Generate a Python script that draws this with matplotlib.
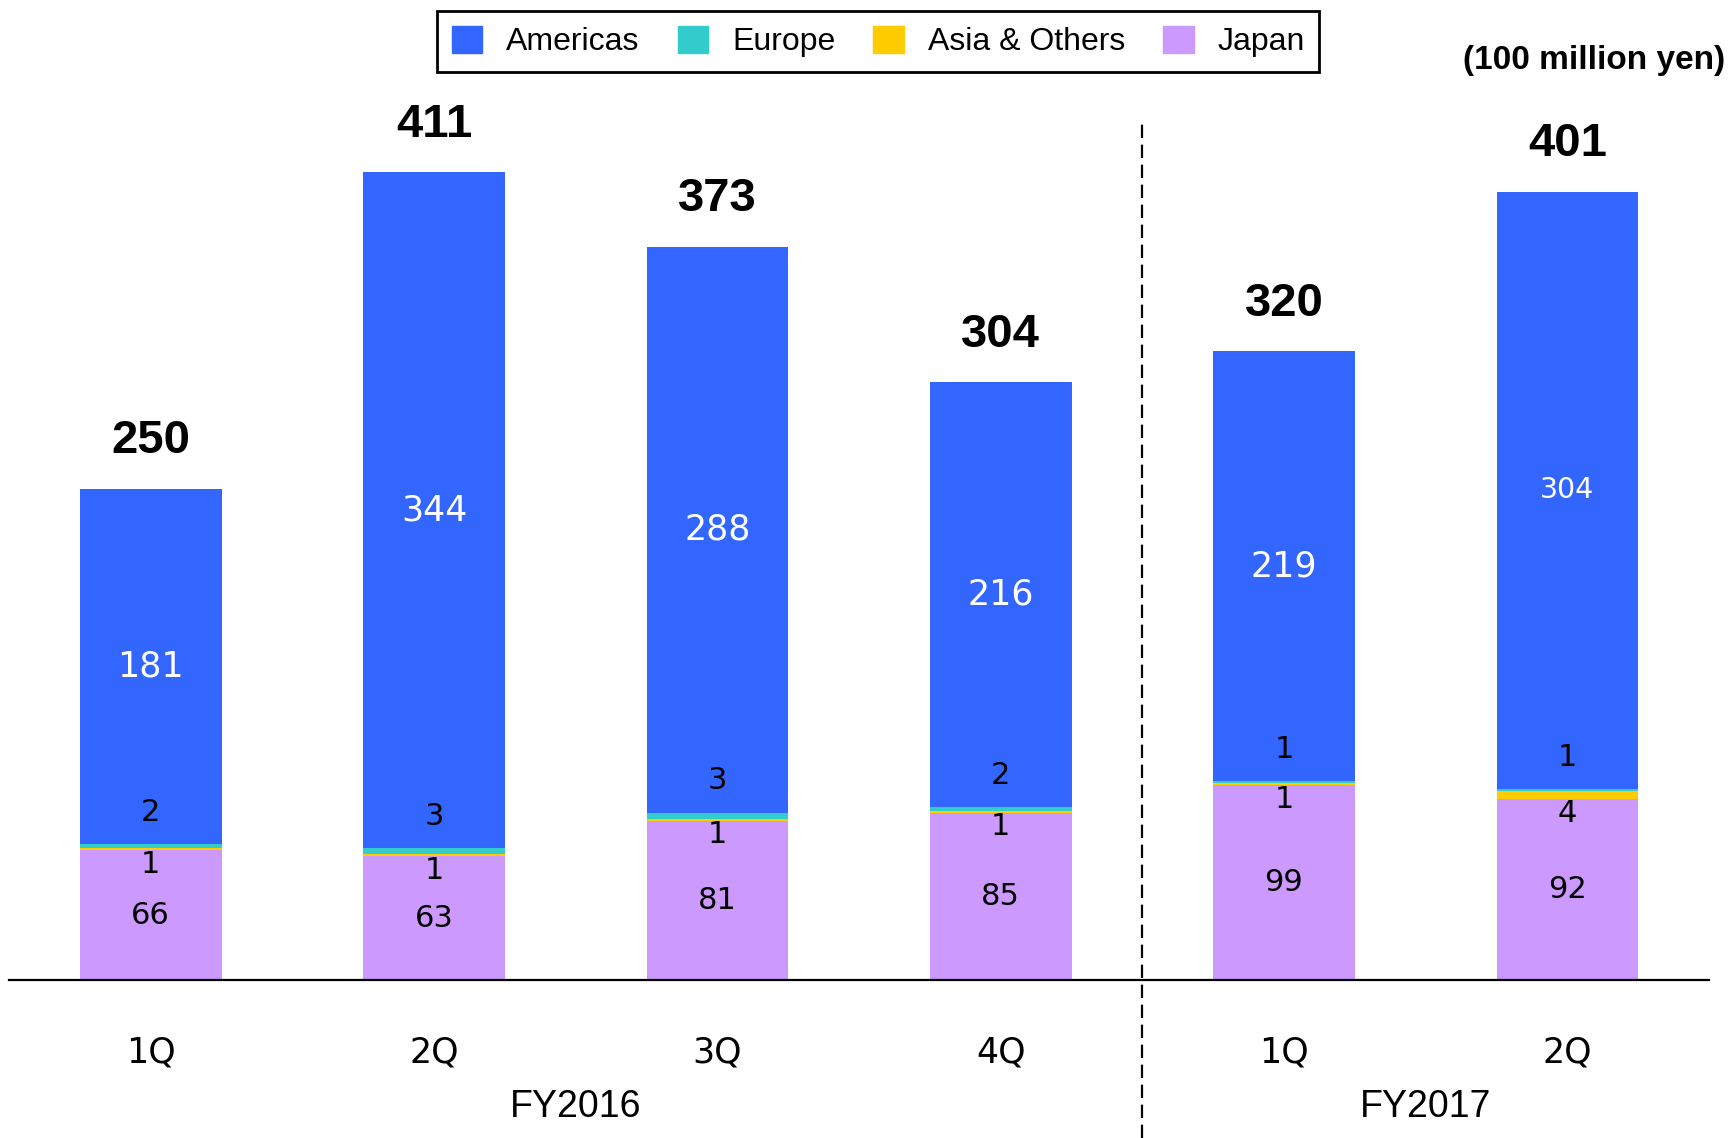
import matplotlib
matplotlib.use("Agg")
from matplotlib import pyplot as plt
from matplotlib.patches import Patch
import matplotlib.transforms as mtransforms
import numpy as np

# quarterly sales by region, 100 million yen
quarters = ["1Q", "2Q", "3Q", "4Q", "1Q", "2Q"]
years = ["FY2016", "FY2017"]
japan = [66, 63, 81, 85, 99, 92]
asia = [1, 1, 1, 1, 1, 4]
europe = [2, 3, 3, 2, 1, 1]
americas = [181, 344, 288, 216, 219, 304]
totals = [250, 411, 373, 304, 320, 401]

c_amer = "#3366FF"
c_eur = "#33CCCC"
c_asia = "#FFCC00"
c_jpn = "#CC99FF"

fig = plt.figure(figsize=(17.29, 11.38), dpi=100)
ax = fig.add_axes([9 / 1729, 158 / 1138, 1700 / 1729, 900 / 1138])

x = np.arange(len(quarters))
w = 0.5
japan = np.array(japan)
asia = np.array(asia)
europe = np.array(europe)
americas = np.array(americas)

ax.bar(x, japan, w, color=c_jpn)
ax.bar(x, asia, w, bottom=japan, color=c_asia)
ax.bar(x, europe, w, bottom=japan + asia, color=c_eur)
ax.bar(x, americas, w, bottom=japan + asia + europe, color=c_amer)

ax.set_xlim(-0.5, 5.5)
ax.set_ylim(0, 457.8)

num_font = "DejaVu Sans"
amer_size = [25, 25, 25, 25, 25, 20.5]
for i in x:
    ax.text(i, japan[i] / 2, str(japan[i]), ha="center", va="center",
            fontsize=22, family=num_font, color="black")
    ax.annotate(str(asia[i]), (i, japan[i]), xytext=(0, -10), textcoords="offset points",
                ha="center", va="center", fontsize=22, family=num_font)
    top_eu = japan[i] + asia[i] + europe[i]
    ax.annotate(str(europe[i]), (i, top_eu), xytext=(0, 23), textcoords="offset points",
                ha="center", va="center", fontsize=22, family=num_font)
    ax.text(i, top_eu + americas[i] / 2, str(americas[i]), ha="center", va="center",
            fontsize=amer_size[i], family=num_font, color="white")
    ax.annotate(str(totals[i]), (i, totals[i]), xytext=(0, 34), textcoords="offset points",
                ha="center", va="center", fontsize=34, fontweight="bold",
                family="Liberation Sans")

for s in ["top", "left", "right"]:
    ax.spines[s].set_visible(False)
ax.spines["bottom"].set_linewidth(1.6)
ax.set_yticks([])
ax.set_xticks(x)
ax.set_xticklabels(quarters, fontsize=25, family=num_font)
ax.tick_params(axis="x", length=0, pad=40)

# fiscal year labels under the quarter labels
trans = mtransforms.blended_transform_factory(ax.transData, ax.transAxes)
ax.text(1.5, -0.141, years[0], transform=trans, ha="center", va="center",
        fontsize=27, family="Liberation Sans")
ax.text(4.5, -0.141, years[1], transform=trans, ha="center", va="center",
        fontsize=27, family="Liberation Sans")

# divider between fiscal years
ax.axvline(3.5, ymin=-0.176, ymax=0.952, color="black", linewidth=1.6,
           linestyle=(0, (6, 3)), clip_on=False)

handles = [Patch(color=c_amer, label="Americas"),
           Patch(color=c_eur, label="Europe"),
           Patch(color=c_asia, label="Asia & Others"),
           Patch(color=c_jpn, label="Japan")]
leg = fig.legend(handles=handles, loc="center", bbox_to_anchor=(0.508, 0.9635),
                 ncol=4, fancybox=False, framealpha=1, edgecolor="black",
                 prop={"family": "Liberation Sans", "size": 23},
                 handlelength=0.95, handleheight=0.95, handletextpad=0.75,
                 columnspacing=1.2, borderpad=0.45)
leg.get_frame().set_linewidth(2)

fig.text(0.998, 0.947, "(100 million yen)", ha="right", va="center",
         fontsize=24, fontweight="bold", family="Liberation Sans")

fig.savefig("out.png", dpi=100)
